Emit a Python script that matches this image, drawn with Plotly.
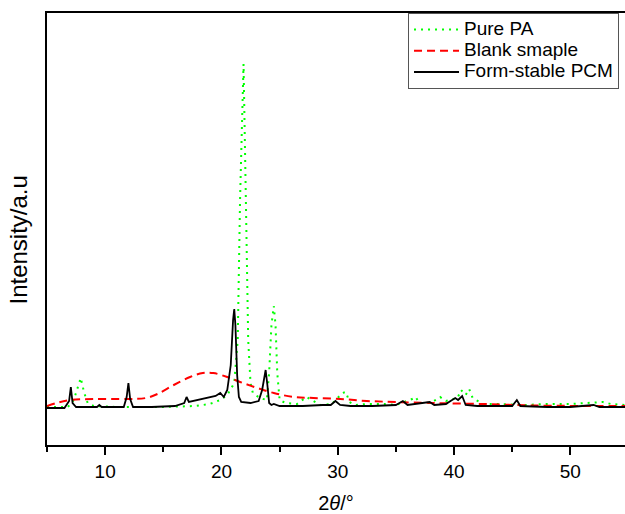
import plotly.graph_objects as go

# 2-theta (degrees) and relative intensity (a.u.)
pcm_x = [5.0, 6.5, 6.9, 7.05, 7.2, 7.5, 9.3, 9.5, 9.7, 11.6, 11.85, 12.0, 12.15, 12.4, 14.0, 16.0,
         16.8, 17.0, 17.2, 18.0, 19.0, 19.5, 19.9, 20.2, 20.5, 20.8, 21.0, 21.1, 21.2, 21.35, 21.5,
         21.7, 22.5, 23.2, 23.5, 23.7, 23.8, 23.95, 24.1, 24.3, 24.5, 25.0, 26.0, 27.0, 28.7, 29.4,
         29.8, 30.2, 31.1, 33.0, 35.0, 35.6, 36.0, 37.9, 38.3, 39.3, 39.7, 40.1, 40.35, 40.7, 41.0,
         42.0, 45.0, 45.4, 45.7, 48.0, 50.0, 52.0, 52.5, 54.7]
pcm_y = [37, 37, 44, 58, 42, 38, 38, 40, 38, 38, 48, 62, 46, 38, 38, 39,
         42, 48, 43, 45, 47, 49, 52, 48, 55, 80, 125, 136, 120, 70, 48,
         43, 42, 44, 55, 70, 75, 60, 42, 40, 41, 39, 39, 39, 40, 40,
         44, 40, 39, 39, 40, 44, 40, 43, 40, 41, 44, 47, 45, 49, 40,
         39, 39, 45, 39, 38, 38, 40, 38, 38]

blank_x = [5.0, 5.8, 7.0, 9.0, 12.0, 13.5, 14.5, 15.9, 17.3, 18.4, 19.3, 20.5, 21.6, 23.1, 24.5,
           26.2, 27.9, 30.2, 32.5, 35.0, 38.2, 42.5, 46.8, 52.6, 54.7]
blank_y = [39, 42, 45, 46, 46, 47, 51, 60, 68, 72, 72, 68, 63, 57, 52,
           48, 47, 46, 44, 43, 42, 41, 39.5, 39, 39]

pa_x = [5.0, 6.8, 7.3, 7.6, 7.9, 8.2, 8.5, 9.0, 11.0, 13.0, 15.0, 17.8, 19.0, 19.9, 20.5, 21.1,
        21.4, 21.6, 21.9, 22.1, 22.3, 22.5, 22.7, 23.3, 23.9, 24.1, 24.3, 24.5, 24.65, 24.8, 25.0,
        25.5, 26.5, 27.3, 28.5, 29.5, 30.4, 30.7, 31.0, 31.5, 32.5, 34.0, 35.0, 36.4, 36.7, 37.0,
        38.0, 38.8, 39.3, 40.3, 40.6, 41.0, 41.3, 41.6, 42.5, 44.0, 46.0, 48.0, 50.0, 52.8, 53.5, 54.7]
pa_y = [38, 38, 45, 55, 67, 52, 42, 39, 38, 38, 38, 39, 41, 45, 50, 62,
        105, 245, 381, 245, 105, 62, 52, 47, 45, 72, 120, 139, 120, 72, 45,
        42, 41, 48, 40, 41, 52, 53, 43, 40, 41, 41, 40, 46, 48, 42,
        42, 48, 44, 47, 55, 50, 56, 47, 41, 41, 40, 41, 41, 43, 41, 40]

names = ["Pure PA", "Blank smaple", "Form-stable PCM"]
x_ticks = [10, 20, 30, 40, 50]

FONT = "Liberation Sans, Arial, Helvetica, sans-serif"


def leg(name):
    return "<span style='font-size:19px'>" + name + "</span>"


fig = go.Figure()
fig.add_trace(go.Scatter(x=pa_x, y=pa_y, mode="lines", name=leg(names[0]),
                         line=dict(color="#00ff00", width=2, dash="2px,5px")))
fig.add_trace(go.Scatter(x=blank_x, y=blank_y, mode="lines", name=leg(names[1]), line_shape="spline",
                         line=dict(color="#ff0000", width=2, dash="8px,5px")))
fig.add_trace(go.Scatter(x=pcm_x, y=pcm_y, mode="lines", name=leg(names[2]),
                         line=dict(color="#000000", width=1.8)))

fig.update_layout(
    width=625, height=514,
    margin=dict(l=47, r=0, t=13, b=69),
    paper_bgcolor="white", plot_bgcolor="white",
    font=dict(family=FONT, color="black", size=19),
    showlegend=True,
    legend=dict(x=0.6246, y=1.0, xanchor="left", yanchor="top",
                bgcolor="rgba(255,255,255,0)", bordercolor="#555555", borderwidth=1,
                font=dict(size=14, family=FONT), tracegroupgap=0, itemwidth=45),
    annotations=[dict(text="Intensity/a.u", textangle=-90, xref="paper", yref="paper",
                      x=-0.051, y=0.4745, xanchor="center", yanchor="middle", showarrow=False,
                      font=dict(size=24, family=FONT, color="black"))],
)
fig.update_xaxes(range=[5, 54.7], tickvals=x_ticks, ticks="outside", ticklen=8, tickwidth=1.5,
                 tickcolor="black", showline=True, linecolor="black", linewidth=1.5, mirror=True,
                 showgrid=False, zeroline=False, tickfont=dict(size=19),
                 minor=dict(ticks="outside", ticklen=5, tickwidth=1.5, tickcolor="black",
                            tickvals=[5, 15, 25, 35, 45], showgrid=False),
                 title=dict(text="2<i>θ</i>/°", font=dict(size=20), standoff=18))
fig.update_yaxes(range=[0, 432], showticklabels=False, ticks="", showline=True, linecolor="black",
                 linewidth=1.5, showgrid=False, zeroline=False)

fig.write_html("out.html", post_script="document.body.style.margin='0';",
               config={"displayModeBar": False})
